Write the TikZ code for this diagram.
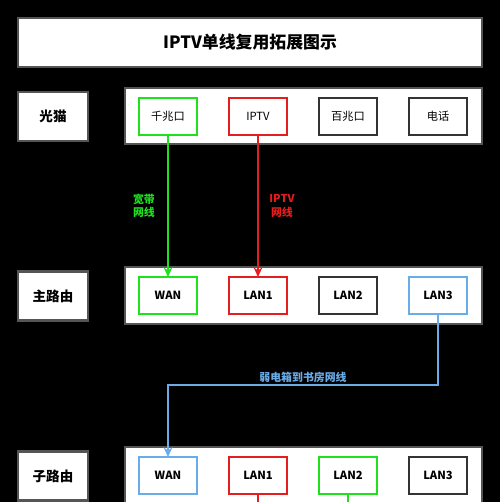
\documentclass[tikz,border=0pt]{standalone}
\usepackage{fontspec}
\setmainfont{Noto Sans CJK SC}
\usetikzlibrary{arrows.meta,positioning}

\definecolor{portgreen}{RGB}{30,225,30}
\definecolor{portred}{RGB}{228,30,30}
\definecolor{portblue}{RGB}{105,172,232}
\definecolor{rimgray}{RGB}{85,85,85}

\tikzset{
  panel/.style={draw=rimgray, line width=1.2pt, fill=white, inner sep=0pt, outer sep=0pt},
  devbox/.style={panel, minimum width=1.4cm, minimum height=0.98cm, font=\bfseries\fontsize{7.7}{9}\selectfont},
  rowbar/.style={panel, minimum width=7.14cm, minimum height=1.13cm},
  port/.style={draw=#1, line width=1.1pt, fill=white, minimum width=1.16cm, minimum height=0.74cm,
    inner sep=0pt, outer sep=0pt, font=\fontsize{6.4}{8}\selectfont},
  port/.default=black!80,
  cable/.style={draw=#1, line width=1pt, -{Stealth[length=5.5pt,width=5pt]}},
  wire/.style={draw=#1, line width=1pt},
  cablelabel/.style={text=#1, font=\bfseries\fontsize{6.2}{7.5}\selectfont, align=center, inner sep=1pt}
}

\begin{document}
\begin{tikzpicture}[x=0.02cm, y=-0.02cm]
    % Background
    \path[use as bounding box, fill=black] (0,0) rectangle (500,502);
    \clip (0,0) rectangle (500,502);

    % Title
    \node[panel, minimum width=9.28cm, minimum height=0.98cm, font=\bfseries\fontsize{9.6}{11}\selectfont]
        (title) at (250,42.5) {IPTV单线复用拓展图示};

    % Optical modem
    \node[devbox] (modem) at (53,116.5) {光猫};
    \node[rowbar] (modembar) at (303.5,116) {};
    \node[port=portgreen] (gig)   at (168,116.5) {千兆口};
    \node[port=portred]   (iptv)  at (258,116.5) {IPTV};
    \node[port]           (fast)  at (348,116.5) {百兆口};
    \node[port]           (phone) at (438,116.5) {电话};

    % Main router
    \node[devbox] (mainr) at (53,296) {主路由};
    \node[rowbar] (mainbar) at (303.5,295.5) {};
    \node[port=portgreen] (wana)  at (168,295.5) {\bfseries WAN};
    \node[port=portred]   (lan1a) at (258,295.5) {\bfseries LAN1};
    \node[port]           (lan2a) at (348,295.5) {\bfseries LAN2};
    \node[port=portblue]  (lan3a) at (438,295.5) {\bfseries LAN3};

    % Sub router
    \node[devbox] (subr) at (53,476) {子路由};
    \node[rowbar] (subbar) at (303.5,475.5) {};
    \node[port=portblue]  (wanb)  at (168,475.5) {\bfseries WAN};
    \node[port=portred]   (lan1b) at (258,475.5) {\bfseries LAN1};
    \node[port=portgreen] (lan2b) at (348,475.5) {\bfseries LAN2};
    \node[port]           (lan3b) at (438,475.5) {\bfseries LAN3};

    % Cables
    \draw[cable=portgreen] (gig.south) -- (wana.north)
        node[midway, left=6pt, cablelabel=portgreen] {宽带\\网线};
    \draw[cable=portred] (iptv.south) -- (lan1a.north)
        node[midway, right=5pt, cablelabel=portred] {IPTV\\网线};
    \draw[cable=portblue] (lan3a.south) -- ++(0,71) -| (wanb.north)
        node[pos=0.25, above, cablelabel=portblue] {弱电箱到书房网线};

    % Lines leaving the picture
    \coordinate (cutred) at (258,506);
    \coordinate (cutgreen) at (348,506);
    \draw[wire=portred] (lan1b.south) -- (cutred);
    \draw[wire=portgreen] (lan2b.south) -- (cutgreen);
\end{tikzpicture}
\end{document}
